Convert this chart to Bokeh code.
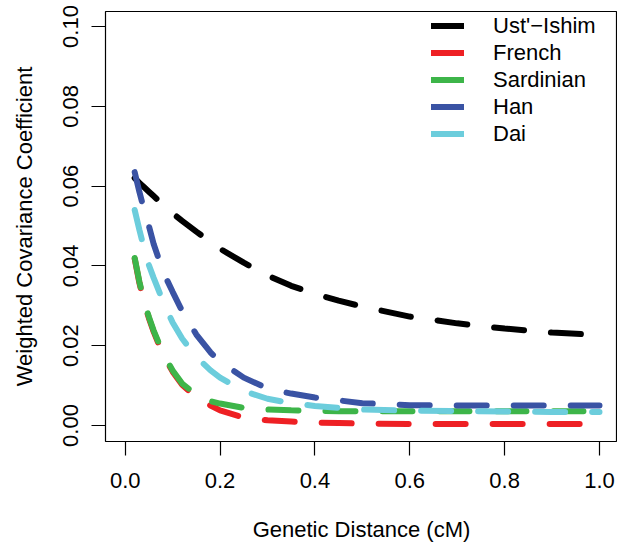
from bokeh.plotting import figure
from bokeh.models import Range1d, FixedTicker, Legend, LegendItem
from bokeh.embed import file_html
from bokeh.resources import INLINE

distance = [0.02, 0.03, 0.04, 0.05, 0.06, 0.08, 0.10, 0.12, 0.15, 0.18, 0.20,
            0.25, 0.30, 0.35, 0.40, 0.45, 0.50, 0.60, 0.70, 0.80, 0.90, 1.00]

ust_ishim = [0.0620, 0.0608, 0.0597, 0.0586, 0.0575, 0.0553, 0.0532, 0.0513, 0.0486, 0.0460, 0.0443,
             0.0408, 0.0376, 0.0350, 0.0330, 0.0313, 0.0298, 0.0273, 0.0256, 0.0243, 0.0233, 0.0227]
french = [0.0418, 0.0357, 0.0307, 0.0269, 0.0235, 0.0177, 0.0135, 0.0102, 0.0070, 0.0050, 0.0038,
          0.0020, 0.0013, 0.0010, 0.0007, 0.0006, 0.0005, 0.0004, 0.0004, 0.0004, 0.0004, 0.0004]
sardinian = [0.0420, 0.0360, 0.0310, 0.0272, 0.0238, 0.0180, 0.0138, 0.0105, 0.0077, 0.0061, 0.0055,
             0.0044, 0.0040, 0.0038, 0.0037, 0.0036, 0.0036, 0.0036, 0.0036, 0.0036, 0.0036, 0.0036]
han = [0.0635, 0.0585, 0.0540, 0.0500, 0.0455, 0.0385, 0.0335, 0.0287, 0.0228, 0.0183, 0.0160,
       0.0120, 0.0093, 0.0080, 0.0070, 0.0063, 0.0056, 0.0051, 0.0050, 0.0050, 0.0050, 0.0050]
dai = [0.0540, 0.0490, 0.0443, 0.0402, 0.0370, 0.0310, 0.0258, 0.0218, 0.0172, 0.0138, 0.0120,
       0.0086, 0.0067, 0.0056, 0.0049, 0.0044, 0.0040, 0.0037, 0.0036, 0.0035, 0.0034, 0.0034]

series_names = ["Ust'\u2212Ishim", "French", "Sardinian", "Han", "Dai"]
series_values = [ust_ishim, french, sardinian, han, dai]
series_colors = ["#000000", "#EE2024", "#3DB549", "#3A53A4", "#6CCDDC"]

x_ticks = [0.0, 0.2, 0.4, 0.6, 0.8, 1.0]
x_tick_labels = ["0.0", "0.2", "0.4", "0.6", "0.8", "1.0"]
y_ticks = [0.00, 0.02, 0.04, 0.06, 0.08, 0.10]
y_tick_labels = ["0.00", "0.02", "0.04", "0.06", "0.08", "0.10"]

FONT = "Liberation Sans"

p = figure(width=617, height=555, output_backend="svg", toolbar_location=None,
           x_range=Range1d(-0.04153, 1.03796), y_range=Range1d(-0.00401, 0.10376),
           min_border_left=105, min_border_right=0, min_border_top=11, min_border_bottom=114,
           x_axis_label="Genetic Distance (cM)", y_axis_label="Weighted Covariance Coefficient")

p.grid.visible = False
p.outline_line_color = "black"
p.outline_line_width = 1.2
p.background_fill_color = "white"
p.border_fill_color = "white"

p.xaxis.ticker = FixedTicker(ticks=x_ticks)
p.xaxis.major_label_overrides = {t: l for t, l in zip(x_ticks, x_tick_labels)}
p.yaxis.ticker = FixedTicker(ticks=y_ticks)
p.yaxis.major_label_overrides = {t: l for t, l in zip(y_ticks, y_tick_labels)}

for ax in (p.xaxis, p.yaxis):
    ax.axis_line_color = None
    ax.major_tick_out = 14
    ax.major_tick_in = 0
    ax.minor_tick_line_color = None
    ax.major_tick_line_color = "black"
    ax.major_tick_line_width = 1.2
    ax.major_label_text_font = FONT
    ax.major_label_text_font_size = "22px"
    ax.major_label_text_color = "black"
    ax.axis_label_text_font = FONT
    ax.axis_label_text_font_size = "22px"
    ax.axis_label_text_font_style = "normal"
    ax.axis_label_text_color = "black"

p.xaxis.major_label_standoff = 17
p.xaxis.axis_label_standoff = 26
p.yaxis.major_label_orientation = "vertical"
p.yaxis.major_label_standoff = 13
p.yaxis.axis_label_standoff = 24

items = []
for name, vals, col in zip(series_names, series_values, series_colors):
    p.line(distance, vals, line_color=col, line_width=6, line_dash="30 27", line_cap="round")
    # solid, off-screen line used only for the legend swatch
    swatch = p.line([-5, -4], [-5, -5], line_color=col, line_width=6, line_cap="round")
    items.append(LegendItem(label=name, renderers=[swatch]))

legend = Legend(items=items, location=(326, 294), padding=0, margin=0,
                border_line_color=None, background_fill_alpha=0,
                glyph_width=33, glyph_height=27, label_height=27, spacing=0,
                label_standoff=29, label_text_font=FONT, label_text_font_size="22px",
                label_text_color="black")
p.add_layout(legend, "center")

open("out.html", "w").write(file_html(p, INLINE))
